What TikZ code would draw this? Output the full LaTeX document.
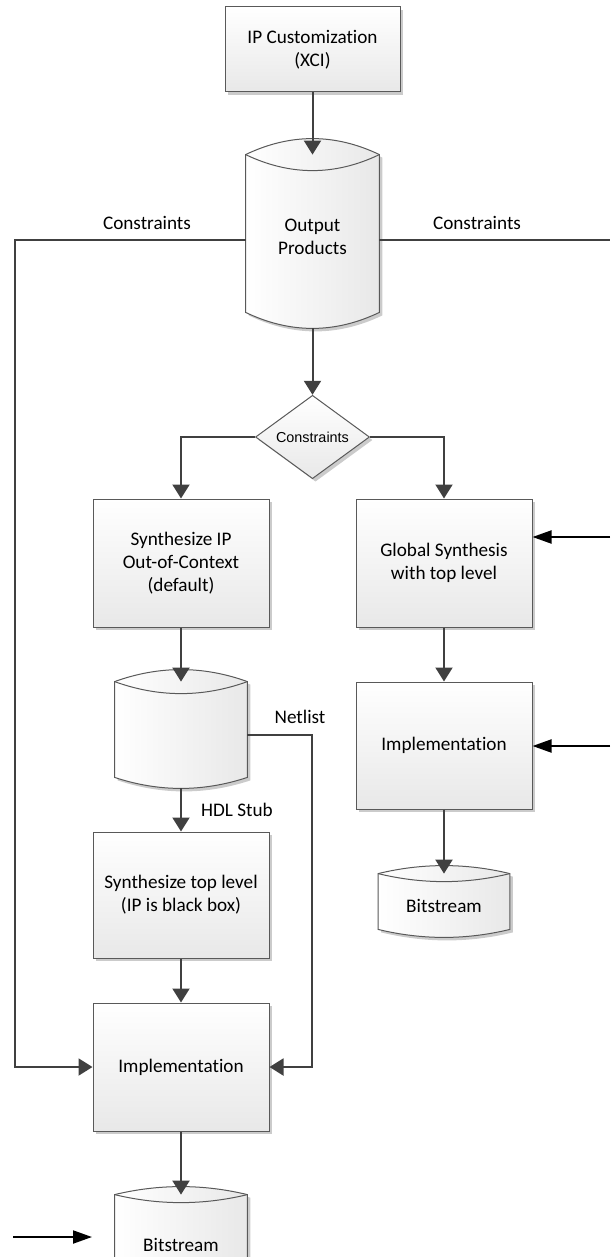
\documentclass[tikz,border=0pt]{standalone}
\usepackage{fontspec}
\setmainfont{Carlito}[Ligatures={NoCommon,NoContextual,NoRequired}]
\newfontfamily\arialf{Liberation Sans}
\usetikzlibrary{arrows.meta,shapes.geometric,shadows,calc}
\tikzset{
  softshadow/.style={drop shadow={shadow xshift=1.5pt, shadow yshift=-1.5pt, fill=black!45, opacity=0.45}},
  lab/.style={font=\fontsize{9.6}{11.5}\selectfont, align=center, inner sep=0pt},
  procbox/.style={rectangle, draw=black!65, line width=0.5pt, top color=white, bottom color=black!9,
     softshadow, minimum width=88pt, font=\fontsize{9.6}{11.5}\selectfont, align=center, inner sep=0pt},
  cylbox/.style={rectangle, draw=none, inner sep=0pt},
  decision/.style={diamond, draw=black!65, line width=0.5pt, top color=white, bottom color=black!9,
     softshadow, minimum width=57pt, minimum height=40pt, inner sep=0pt, font=\arialf\fontsize{7.2}{8.6}\selectfont},
  conn/.style={draw=black!75, line width=1pt, -{Triangle[length=7pt,width=8.5pt]}},
  plainconn/.style={draw=black!75, line width=1pt},
  extarr/.style={draw=black, line width=1pt, -{Triangle[length=9.5pt,width=6.5pt]}},
  cyloutline/.style={draw=black!65, line width=0.5pt}
}
\newcommand\cylshape[3]{%
  \path[cyloutline, left color=white, right color=black!9, softshadow]
    let \p1=(#1.north west), \p2=(#1.south east), \n1={(\x2-\x1)/3} in
    (\x1,\y1) .. controls (\x1+\n1,\y1+#2*0.667pt) and (\x2-\n1,\y1+#2*0.667pt) .. (\x2,\y1)
    -- (\x2,\y2) .. controls (\x2-\n1,\y2-#3*0.667pt) and (\x1+\n1,\y2-#3*0.667pt) .. (\x1,\y2) -- cycle;
  \draw[cyloutline]
    let \p1=(#1.north west), \p2=(#1.south east), \n1={(\x2-\x1)/3} in
    (\x1,\y1) .. controls (\x1+\n1,\y1-#2*0.667pt) and (\x2-\n1,\y1-#2*0.667pt) .. (\x2,\y1);
}
\begin{document}
\begin{tikzpicture}[x=0.5pt,y=-0.5pt]
\useasboundingbox (0,0) rectangle (610,1257);
\clip (0,0) rectangle (610,1257);

% nodes
\node[procbox, minimum width=87.5pt, minimum height=42.5pt] (ip) at (312.5,49.5) {IP Customizat\kern0pt ion\\(XCI)};

\node[cylbox, minimum width=66.5pt, minimum height=78.5pt] (out) at (312.5,233.5) {};
\cylshape{out}{16}{16}
\node[lab] (outlbl) at (312.5,237) {Output\\Products};

\node[decision] (dia) at (312.5,437) {Constraints};

\node[procbox, minimum height=64pt] (syn1) at (181,563) {Synthesize IP\\Out-of-Context\\(default)};
\node[procbox, minimum height=64pt] (glob) at (444,563) {Global Synthesis\\with top level};

\node[cylbox, minimum width=66pt, minimum height=47.5pt] (net) at (181,729.5) {};
\cylshape{net}{12}{11}

\node[procbox, minimum height=63.5pt] (impR) at (444,745.5) {Implementat\kern0pt ion};

\node[cylbox, minimum width=65.5pt, minimum height=27.5pt] (bitR) at (444,901.5) {};
\cylshape{bitR}{8}{8}
\node[lab] (bitRlbl) at (444,906) {Bitstream};

\node[procbox, minimum height=63pt] (stop) at (181,895) {Synthesize top level\\(IP is black box)};

\node[procbox, minimum height=64pt] (impL) at (181,1067) {Implementat\kern0pt ion};

\node[cylbox, minimum width=66pt, minimum height=47.5pt] (bitL) at (181,1242.5) {};
\cylshape{bitL}{8}{8}
\node[lab] (bitLlbl) at (181,1245) {Bitstream};

% coordinates for free ends / bends
\coordinate (cl) at (15,240);
\coordinate (cr) at (610,240);
\coordinate (nr) at (312,735);
\coordinate (ra1) at (610,537);
\coordinate (ra2) at (610,746);
\coordinate (lg1) at (13,1237);
\coordinate (lg2) at (92,1237);

% labels
\node[lab] (cll) at (147,223) {Constraints};
\node[lab] (crl) at (477,223) {Constraints};
\node[lab] (netl) at (300,717) {Netlist};
\node[lab] (hdl) at (237,810) {HDL Stub};

% connectors
\draw[conn] (ip) -- (out);
\draw[conn] (out.west |- cl) -- (cl) |- (impL.west);
\draw[plainconn] (out.east |- cr) -- (cr);
\draw[conn] ([yshift=-8pt]out.south) -- (dia.north);
\draw[conn] (dia.west) -| (syn1.north);
\draw[conn] (dia.east) -| (glob.north);
\draw[conn] (syn1.south) -- (net.north);
\draw[conn] (net.east |- nr) -- (nr) |- (impL.east);
\draw[conn] ([yshift=-5.5pt]net.south) -- (stop.north);
\draw[conn] (stop.south) -- (impL.north);
\draw[conn] (impL.south) -- (bitL.north);
\draw[conn] (glob.south) -- (impR.north);
\draw[conn] (impR.south) -- (bitR.north);
\draw[extarr] (ra1) -- (glob.east |- ra1);
\draw[extarr] (ra2) -- (impR.east |- ra2);
\draw[extarr] (lg1) -- (lg2);
\end{tikzpicture}
\end{document}
